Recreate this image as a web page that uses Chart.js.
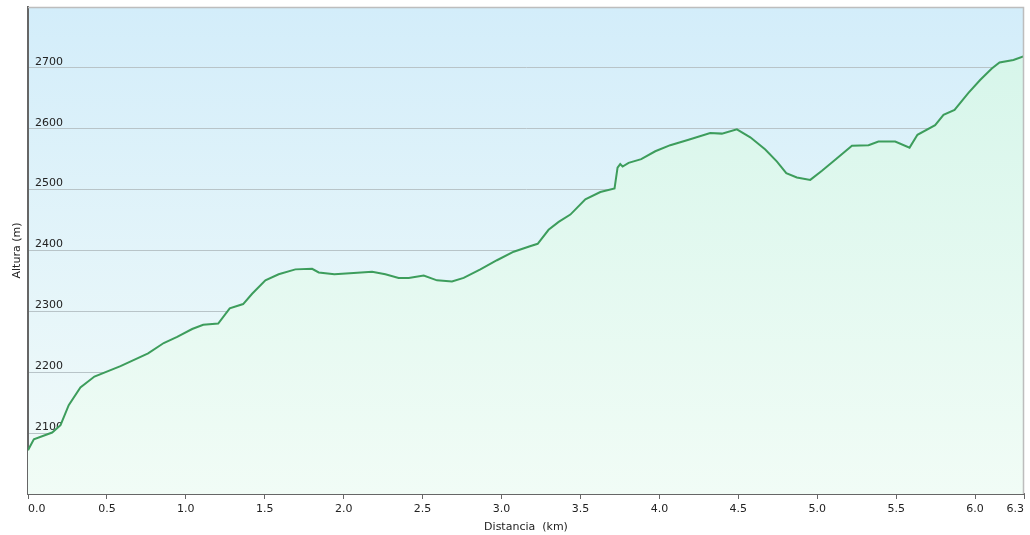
<!DOCTYPE html>
<html>
<head>
<meta charset="utf-8">
<script src="https://cdn.jsdelivr.net/npm/chart.js@4"></script>
<style>
  html, body { margin: 0; padding: 0; background: #ffffff; }
  #wrap { width: 1030px; height: 535px; }
</style>
</head>
<body>
<div id="wrap"><canvas id="c" width="1030" height="535"></canvas></div>
<script>
// Distance along the route (km)
const distancesKm = [
  0, 0.037, 0.153, 0.206, 0.258, 0.332, 0.421, 0.586, 0.761, 0.86, 0.945, 1.04, 1.11, 1.205,
  1.278, 1.363, 1.42, 1.504, 1.588, 1.694, 1.80, 1.842, 1.941, 2.063, 2.18, 2.264, 2.348,
  2.412, 2.507, 2.591, 2.686, 2.76, 2.866, 2.971, 3.077, 3.18, 3.229, 3.298, 3.362, 3.436,
  3.531, 3.626, 3.716, 3.735, 3.752, 3.767, 3.805, 3.885, 3.974, 4.069, 4.185, 4.322, 4.396,
  4.491, 4.576, 4.671, 4.745, 4.804, 4.871, 4.956, 5.03, 5.114, 5.22, 5.325, 5.388, 5.494,
  5.585, 5.635, 5.747, 5.8, 5.87, 5.958, 6.032, 6.106, 6.155, 6.243, 6.31
];
// Altitude (m)
const altitudesM = [
  2072, 2090, 2101, 2113, 2146, 2175, 2193, 2210, 2231, 2248, 2258, 2271, 2278, 2280,
  2305, 2312, 2329, 2351, 2361, 2369, 2370, 2364, 2361, 2363, 2365, 2361, 2355,
  2355, 2359, 2351, 2349, 2355, 2369, 2384, 2398, 2407, 2411, 2434, 2447, 2459,
  2484, 2496, 2502, 2536, 2542, 2538, 2544, 2550, 2563, 2573, 2582, 2593, 2592,
  2599, 2586, 2566, 2546, 2527, 2520, 2516, 2531, 2549, 2572, 2573, 2579, 2579,
  2569, 2590, 2606, 2623, 2631, 2659, 2680, 2699, 2709, 2713, 2719
];
// Tick values
const xTickValues = [0, 0.5, 1.0, 1.5, 2.0, 2.5, 3.0, 3.5, 4.0, 4.5, 5.0, 5.5, 6.0, 6.31];
const yTickValues = [2100, 2200, 2300, 2400, 2500, 2600, 2700];
const xMin = 0, xMax = 6.31, yMin = 2000, yMax = 2800;

const FONT = { family: '"DejaVu Sans", Verdana, sans-serif', size: 11 };
const TEXT = '#222222';

const bgPlugin = {
  id: 'bgPlugin',
  beforeDraw(chart) {
    const { ctx, chartArea: ca } = chart;
    if (!ca) return;
    const g = ctx.createLinearGradient(0, ca.top, 0, ca.bottom);
    g.addColorStop(0, 'rgb(211,237,250)');
    g.addColorStop(1, 'rgb(242,251,249)');
    ctx.save();
    ctx.fillStyle = g;
    ctx.fillRect(ca.left, ca.top, ca.right - ca.left, ca.bottom - ca.top);
    ctx.restore();
  },
  afterDraw(chart) {
    const { ctx, chartArea: ca } = chart;
    ctx.save();
    ctx.strokeStyle = '#bdbdbd';
    ctx.lineWidth = 1.5;
    ctx.beginPath();
    ctx.moveTo(ca.left, ca.top + 0.5);
    ctx.lineTo(ca.right - 0.5, ca.top + 0.5);
    ctx.lineTo(ca.right - 0.5, ca.bottom);
    ctx.stroke();
    ctx.restore();
  }
};

new Chart(document.getElementById('c'), {
  type: 'line',
  data: {
    datasets: [{
      data: distancesKm.map((d, i) => ({ x: d, y: altitudesM[i] })),
      borderColor: '#3d9d5c',
      borderWidth: 2,
      pointRadius: 0,
      tension: 0,
      fill: 'start',
      backgroundColor: (ctx) => {
        const chart = ctx.chart;
        const ca = chart.chartArea;
        if (!ca) return 'rgba(215,245,230,0.8)';
        const g = chart.ctx.createLinearGradient(0, ca.top, 0, ca.bottom);
        g.addColorStop(0, 'rgb(212,245,233)');
        g.addColorStop(1, 'rgb(241,252,246)');
        return g;
      }
    }]
  },
  options: {
    responsive: false,
    animation: false,
    layout: { padding: { left: 0, right: 6, top: 7, bottom: 0 } },
    plugins: { legend: { display: false }, tooltip: { enabled: false } },
    scales: {
      x: {
        type: 'linear',
        min: xMin,
        max: xMax,
        afterBuildTicks(scale) { scale.ticks = xTickValues.map(v => ({ value: v })); },
        afterFit(scale) { scale.height = 41; scale.paddingLeft = 0; scale.paddingRight = 0; },
        ticks: {
          font: FONT, color: TEXT, padding: 4, align: 'inner', maxRotation: 0, autoSkip: false,
          callback: (v) => Number(v).toFixed(1)
        },
        grid: { drawOnChartArea: false, drawTicks: true, tickLength: 5, color: '#666666', lineWidth: 1 },
        border: { display: true, color: '#666666', width: 2 },
        title: { display: true, text: 'Distancia  (km)', font: FONT, color: TEXT, padding: { top: 0, bottom: 1 } }
      },
      y: {
        type: 'linear',
        min: yMin,
        max: yMax,
        afterBuildTicks(scale) { scale.ticks = yTickValues.map(v => ({ value: v })); },
        afterFit(scale) { scale.width = 28; scale.paddingTop = 0; scale.paddingBottom = 0; },
        ticks: { font: FONT, color: TEXT, mirror: true, padding: 7, labelOffset: -6, callback: (v) => String(v) },
        grid: { color: '#b8c4c8', lineWidth: 1, drawTicks: false },
        border: { display: true, color: '#666666', width: 2 },
        title: { display: true, text: 'Altura (m)', font: FONT, color: TEXT, padding: { top: 11, bottom: 0 } }
      }
    }
  },
  plugins: [bgPlugin]
});
</script>
</body>
</html>
